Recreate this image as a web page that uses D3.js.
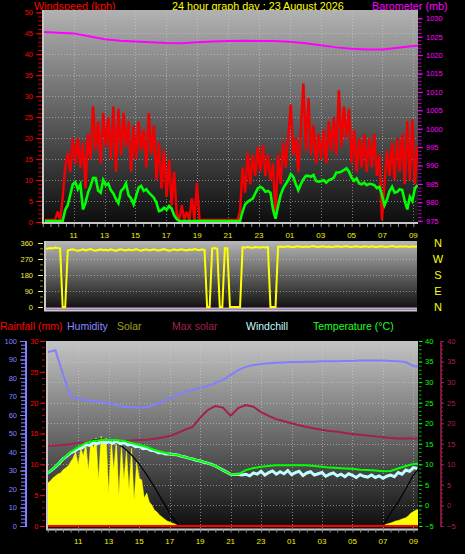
<!DOCTYPE html>
<html><head><meta charset="utf-8">
<script src="https://cdn.jsdelivr.net/npm/d3@7/dist/d3.min.js"></script>
<style>body{margin:0;background:#000;} svg{display:block;}</style>
</head><body><svg id="c" width="465" height="554"></svg>
<script>
// ---------------- DATA ----------------
const titleText = "24 hour graph day : 23 August 2026";
const hourTicks  = [11,13,15,17,19,21,23,25,27,29,31,33];
const hourLabels = ["11","13","15","17","19","21","23","01","03","05","07","09"];

// wind samples (~10 min), start 09:08
const windStartH = 9.14, windStepH = 0.1641;
const windAvg = [
 0,0,0,0,0,0,0,0,
 2.9,4,6.5,9,9.5,7.8,9,3,
 4.5,7,8.5,10.5,10.5,7.5,7,10,
 8.8,9.2,7.6,6.8,5.5,4.5,7.4,8,
 9.2,6.4,5.6,4.2,6.2,8.2,8.6,7.4,
 7.8,7,6.4,5.8,4.6,2.6,2.8,3.4,
 2.9,3.8,3.2,1.6,0.7,0,0,0,
 0,0,0,0,0.3,0,0,0,
 0,0,0,0,0,0,0,0,
 0,0,0,0,0,0,2.5,4.2,
 4.8,5.2,5.6,6.8,8,8.4,8,7.2,
 7.4,7,3,0.8,3.8,6.4,8,9,
 10,11.4,10.8,9,7.6,9,10.2,11,
 11,10.8,11.2,9.8,9.6,9.7,10,9.4,
 10,10.2,10.6,11.8,11.8,12,12.4,12.8,
 12,10.6,9.8,10.4,9.2,9,9.4,8.8,
 9.1,9,8.8,8.1,8.4,6.4,4,5.4,
 7.4,8.4,7,7.2,7.8,7.6,5,3,
 6,5,8,8.8];
const windGust = [
 0.5,0.5,0.5,0.5,0.5,2.5,0.5,5.7,
 13,16.5,12,20,14,20,13,19,
 8,21,15,27.5,17,24,14,26,
 18,25,15,27.5,12,27,16,26,
 18,24,12,23,15,24,17,22,
 13,26,16,23,10,19,8,17,
 6,15,4,12,2,0.5,4,0.5,
 2.5,0.5,5.7,0.5,9.3,0.5,0.5,0.5,
 0.5,0.5,0.5,0.5,0.5,0.5,0.5,0.5,
 0.5,0.5,0.5,0.5,0.5,2.5,13,7,
 16.5,9,16,11,18,12,18.3,11,
 16,10,14,1.5,16,9,19,13,
 20,28,16,20,12,22,33,17,
 29.5,16,23,14,21,15,22,14,
 24,17,25,16,31.4,18,27.5,20,
 27,14,22,12,20,13,21,12,
 20,13,21,11,16,0.5,9,17,
 11,19,10,20,12,21,9,24,
 10,24.5,9,18];
const windDir = [
 330,328,332,330,335,332,330,0,
 0,318,322,325,320,316,320,324,
 318,322,326,320,317,321,325,319,
 322,318,324,320,316,322,325,320,
 318,323,319,321,326,320,317,322,
 324,319,321,325,320,318,322,326,
 321,317,320,324,319,322,325,320,
 318,323,321,326,322,319,324,320,
 0,0,330,332,328,0,0,330,
 330,0,0,0,0,0,336,334,
 338,335,333,337,336,334,338,335,
 337,0,0,0,338,340,337,339,
 341,338,336,340,342,339,337,340,
 338,341,343,339,337,340,342,338,
 340,337,339,342,340,338,341,343,
 339,337,340,342,339,338,341,340,
 338,341,339,337,340,342,339,338,
 341,343,340,338,341,339,342,340,
 338,341,339,340];

// barometer hourly from 09:00
const baroStartH = 9;
const baro = [1026.3,1026.1,1025.9,1025.1,1024.3,1023.9,1023.7,1023.5,1023.3,1023.2,
 1023.5,1023.7,1023.8,1023.9,1023.8,1023.8,1023.6,1023.2,1022.7,1022.1,
 1021.7,1021.5,1021.5,1022.0,1022.5,1022.6];

// lower panel, half-hourly from 09:00
const halfStartH = 9.0;
const humidity = [94,95,82,70,68.6,68,67.6,67,66.5,65.4,64.3,64.3,63.8,64.3,65.4,67,69,70.8,72.4,73.5,
 74.6,75.7,77.3,79,81.6,84.3,86,87,87.6,88,88.2,88.4,88.6,88.6,88.8,88.8,89,89,89,89.2,
 89.2,89.4,89.4,89.4,89.4,89.2,89,88.6,86.5,86];
const temperature = [7.9,9.4,11.3,13.0,14.2,15.2,15.7,15.9,15.9,15.9,15.7,15.2,14.7,14.2,13.5,13.0,12.5,12.3,11.8,11.3,
 10.8,10.3,9.6,8.6,7.6,7.6,8.6,9.1,9.4,9.6,9.8,9.8,9.8,9.8,9.8,9.6,9.4,9.2,9.1,9.0,
 8.9,8.7,8.6,8.5,8.3,8.4,9.0,9.6,10.1,10.2];
const maxSolarLine = [14.5,14.6,14.7,14.9,15.2,15.3,15.4,15.5,15.7,15.7,15.7,15.8,15.9,16.0,16.2,16.5,16.9,17.6,18.4,19.1,
 21.3,23.2,24.2,23.8,21.8,23.7,24.4,24.0,22.7,21.8,21.0,20.5,20.0,19.5,19.1,18.7,18.4,18.1,17.9,17.6,
 17.4,17.2,17.0,16.8,16.6,16.4,16.3,16.3,16.3,16.3];
const rainfall = new Array(50).fill(0);
const solarCurve = [286,324,362,400,427,449,465,470,465,449,422,384,335,276,211,140,70,11,0,0,
 0,0,0,0,0,0,0,0,0,0,0,0,0,0,0,0,0,0,0,0,
 0,0,0,0,0,70,130,200,276,324];

// windchill, quarter-hourly from 09:00
const chillStartH = 9.0, chillStepH = 0.25;
const windchill = [7.9,8.6,9.4,10.3, 11.3,12.0,12.8,13.2, 13.8,14.0,14.8,14.6, 15.3,15.0,15.6,15.2,
 15.5,15.1,15.6,15.0, 15.3,14.7,14.9,14.3, 14.4,13.8,13.9,13.4, 13.3,12.8,12.8,12.5,
 12.5,12.4,12.3,12.0, 11.8,11.5,11.3,11.0, 10.8,10.5,10.3,10.0, 9.6,9.1,8.6,8.1,
 7.6,7.5,7.6,7.4, 7.6,7.2,7.9,7.6, 8.3,7.4,8.0,8.4, 7.6,8.2,7.7,8.5,
 7.5,8.0,8.3,7.3, 7.9,8.2,7.4,7.7, 8.0,7.1,7.6,7.9, 7.2,7.6,7.0,7.7,
 7.3,6.8,7.5,7.1, 6.9,7.4,6.8,7.2, 6.6,7.1,7.4,7.0, 8.0,7.6,8.6,8.3,
 9.2,9.0];

// solar radiation, 10 min from 09:00
const solarStartH = 9.0, solarStepH = 1/6;
const solar = [232,243,259,270,281,286,303,313,324,346,368,400,330,422,380,443,300,465,420,476,
 250,486,440,476,180,465,300,470,168,438,250,411,195,420,140,346,260,249,151,178,
 130,114,86,76,59,49,38,27,22,16,11,5,0,0,0,0,0,0,0,0,
 0,0,0,0,0,0,0,0,0,0,0,0,0,0,0,0,0,0,0,0,
 0,0,0,0,0,0,0,0,0,0,0,0,0,0,0,0,0,0,0,0,
 0,0,0,0,0,0,0,0,0,0,0,0,0,0,0,0,0,0,0,0,
 0,0,0,0,0,0,0,0,0,0,0,0,3,8,12,16,22,27,30,35,
 40,45,55,70,78,86,90];

const legend = [["Rainfall (mm)",0,"#ff0000"],["Humidity",67,"#8888ff"],["Solar",117,"#a0a020"],
 ["Max solar",172,"#a4204c"],["Windchill",246,"#c0ffff"],["Temperature (\u00b0C)",313,"#20ff20"]];
const compass = ["N","W","S","E","N"];
const compassDeg = [360,270,180,90,0];

// ---------------- DRAW ----------------
const FONT = "'Liberation Sans', Arial, sans-serif";
const svg = d3.select("#c");
svg.append("rect").attr("width",465).attr("height",554).attr("fill","#000");
const defs = svg.append("defs");
function grad(id, top, mid, bot){
  const g = defs.append("linearGradient").attr("id",id).attr("x1",0).attr("y1",0).attr("x2",0).attr("y2",1);
  g.append("stop").attr("offset","0%").attr("stop-color",top);
  g.append("stop").attr("offset","50%").attr("stop-color",mid);
  g.append("stop").attr("offset","100%").attr("stop-color",bot);
}
grad("g1","#b2b2b2","#5e5e5e","#0c0c0c");
grad("g2","#b8b8b8","#606060","#0c0c0c");
grad("g3","#c4c4c4","#6a6a6a","#0c0c0c");
function clip(id,x,y,w,h){ defs.append("clipPath").attr("id",id).append("rect").attr("x",x).attr("y",y).attr("width",w).attr("height",h); }

function panel(x0,y0,x1,y1,gid){
  svg.append("rect").attr("x",x0).attr("y",y0).attr("width",x1-x0).attr("height",y1-y0).attr("fill",`url(#${gid})`);
}
function frame(x0,y0,x1,y1){
  svg.append("line").attr("x1",x0+1).attr("x2",x0+1).attr("y1",y0).attr("y2",y1+1).attr("stroke","#c8c8c8").attr("stroke-width",2);
  svg.append("line").attr("x1",x0).attr("x2",x1).attr("y1",y1+1).attr("y2",y1+1).attr("stroke","#c8c8c8").attr("stroke-width",2);
}
function axis(gen, scale, vals, size, pad, fmt, color, tx, ty, fs){
  const a = gen(scale).tickValues(vals).tickSize(size).tickPadding(pad).tickFormat(fmt);
  const g = svg.append("g").attr("transform",`translate(${tx},${ty})`).call(a);
  g.select(".domain").remove();
  g.selectAll("line").attr("stroke",color).attr("stroke-width",1);
  g.selectAll("text").attr("fill",color).attr("font-size",fs).attr("font-family",FONT);
  return g;
}
function gridH(scale, vals, x0, x1){
  svg.append("g").selectAll("line").data(vals).join("line")
    .attr("x1",x0).attr("x2",x1).attr("y1",d=>Math.round(scale(d))+0.5).attr("y2",d=>Math.round(scale(d))+0.5)
    .attr("stroke","#d0d0d0").attr("stroke-opacity",0.55).attr("stroke-dasharray","1,2");
}
function gridV(scale, vals, y0, y1){
  svg.append("g").selectAll("line").data(vals).join("line")
    .attr("y1",y0).attr("y2",y1).attr("x1",d=>Math.round(scale(d))+0.5).attr("x2",d=>Math.round(scale(d))+0.5)
    .attr("stroke","#d0d0d0").attr("stroke-opacity",0.55).attr("stroke-dasharray","1,2");
}
const range = (a,b,s)=>d3.range(a,b+s/2,s);

// title row
svg.append("text").attr("x",34).attr("y",9.5).text("Windspeed (kph)").attr("fill","#ff0000").attr("font-size",10.8).attr("font-family",FONT);
svg.append("text").attr("x",172).attr("y",9.5).text(titleText).attr("fill","#ffff00").attr("font-size",10.8).attr("font-family",FONT);
svg.append("text").attr("x",372).attr("y",9.5).text("Barometer (mb)").attr("fill","#ff00ff").attr("font-size",10.8).attr("font-family",FONT);

// ===== Panel 1 =====
const x1 = d3.scaleLinear().domain([8.95,33.3]).range([42,418]);
const yWind = d3.scaleLinear().domain([0,50]).range([222,12.3]);
const yBaro = d3.scaleLinear().domain([975,1030]).range([220.7,18.3]);
panel(42,10,418,224,"g1");
gridH(yWind, range(5,45,5), 43, 418);
gridV(x1, hourTicks, 10, 222);
clip("cp1",43,10,375,213);
const p1 = svg.append("g").attr("clip-path","url(#cp1)");
const tW = i => windStartH + i*windStepH;
p1.append("path").datum(windGust).attr("fill","none").attr("stroke","#f00000").attr("stroke-width",2.5)
  .attr("stroke-linejoin","bevel")
  .attr("d", d3.line().x((d,i)=>x1(tW(i))).y(d=>yWind(d)));
p1.append("path").datum(windAvg).attr("fill","none").attr("stroke","#00ff00").attr("stroke-width",2.6)
  .attr("d", d3.line().x((d,i)=>x1(tW(i))).y(d=>Math.min(yWind(d),221)));
p1.append("path").datum(baro).attr("fill","none").attr("stroke","#ff00ff").attr("stroke-width",2)
  .attr("d", d3.line().x((d,i)=>x1(baroStartH+i)).y(d=>yBaro(d)));
frame(42,10,418,222);
axis(d3.axisLeft, yWind, range(0,50,1), 4, 0, "", "#c00000", 42, 0, 8);
axis(d3.axisLeft, yWind, range(0,50,5), 6, 3, d3.format("d"), "#ff0000", 42, 0, 7.5);
axis(d3.axisRight, yBaro, range(975,1030,1), 3.5, 0, "", "#c000c0", 418, 0, 8);
axis(d3.axisRight, yBaro, range(975,1030,5), 5, 3, d3.format("d"), "#ff00ff", 418, 0, 7.5);
axis(d3.axisBottom, x1, range(9,33,0.5), 3, 0, "", "#909090", 0, 224, 8);
svg.append("g").selectAll("text").data(hourTicks).join("text")
  .attr("x",d=>x1(d)).attr("y",237.5).attr("text-anchor","middle").text((d,i)=>hourLabels[i])
  .attr("fill","#f0f000").attr("font-size",8).attr("font-family",FONT);

// ===== Panel 2 =====
const yDir = d3.scaleLinear().domain([0,360]).range([307,243]);
panel(45,241,417,310,"g2");
gridH(yDir, [90,180,270], 46, 417);
clip("cp2",46,241,371,69);
const p2 = svg.append("g").attr("clip-path","url(#cp2)");
p2.append("line").attr("x1",46).attr("x2",417).attr("y1",308.5).attr("y2",308.5).attr("stroke","#c8a0d8").attr("stroke-width",2);
p2.append("path").datum(windDir).attr("fill","none").attr("stroke","#ffff00").attr("stroke-width",2)
  .attr("d", d3.line().x((d,i)=>x1(tW(i))).y(d=>yDir(d)));
frame(44,241,417,309.5);
axis(d3.axisLeft, yDir, range(0,360,30), 3, 0, "", "#909000", 43, 0, 8);
axis(d3.axisLeft, yDir, range(0,360,90), 5, 5, d3.format("d"), "#f0f040", 43, 0, 7.5);
svg.append("g").selectAll("text").data(compass).join("text")
  .attr("x",438).attr("y",(d,i)=>yDir(compassDeg[i])+4).attr("text-anchor","middle").text(d=>d)
  .attr("fill","#ffff00").attr("font-size",11).attr("font-family",FONT);

// legend row
svg.append("g").selectAll("text").data(legend).join("text")
  .attr("x",d=>d[1]).attr("y",330).text(d=>d[0]).attr("fill",d=>d[2]).attr("font-size",10.5).attr("font-family",FONT);

// ===== Panel 3 =====
const x3 = d3.scaleLinear().domain([8.95,33.3]).range([47,418]);
const yHum = d3.scaleLinear().domain([0,100]).range([526,341]);
const yRain = d3.scaleLinear().domain([0,30]).range([526,341]);
const yTemp = d3.scaleLinear().domain([-5,40]).range([526,341]);
const ySolar = d3.scaleLinear().domain([0,1000]).range([526,341]);
panel(47,341,418,529,"g3");
gridH(yTemp, range(0,35,5), 48, 418);
gridV(x3, hourTicks, 341, 528);
clip("cp3",48,341,370,187);
const p3 = svg.append("g").attr("clip-path","url(#cp3)");
const tS = i => solarStartH + i*solarStepH;
const tH = i => halfStartH + i*0.5;
const tC = i => chillStartH + i*chillStepH;
p3.append("path").datum(solar).attr("fill","#ffff00").attr("stroke","#ffff00").attr("stroke-width",0.5)
  .attr("d", d3.area().x((d,i)=>x3(tS(i))).y0(ySolar(0)).y1(d=>ySolar(d)));
p3.append("path").datum(solarCurve).attr("fill","none").attr("stroke","#000").attr("stroke-width",1.2)
  .attr("d", d3.line().x((d,i)=>x3(tH(i))).y(d=>ySolar(d)));
p3.append("path").datum(humidity).attr("fill","none").attr("stroke","#8080ff").attr("stroke-width",2)
  .attr("d", d3.line().x((d,i)=>x3(tH(i))).y(d=>yHum(d)));
p3.append("path").datum(maxSolarLine).attr("fill","none").attr("stroke","#a4204c").attr("stroke-width",2)
  .attr("d", d3.line().x((d,i)=>x3(tH(i))).y(d=>yTemp(d)));
p3.append("path").datum(windchill).attr("fill","none").attr("stroke","#c0ffff").attr("stroke-width",3)
  .attr("d", d3.line().x((d,i)=>x3(tC(i))).y(d=>yTemp(d)));
p3.append("path").datum(temperature).attr("fill","none").attr("stroke","#00ff00").attr("stroke-width",2)
  .attr("d", d3.line().x((d,i)=>x3(tH(i))).y(d=>yTemp(d)));
p3.append("path").datum(rainfall).attr("fill","none").attr("stroke","#ff0000").attr("stroke-width",2)
  .attr("d", d3.line().x((d,i)=>x3(tH(i))).y(d=>yRain(d)));
frame(46,341,418,528.5);
// humidity axis
svg.append("line").attr("x1",26).attr("x2",26).attr("y1",341).attr("y2",527).attr("stroke","#8080ff").attr("stroke-width",2);
axis(d3.axisLeft, yHum, range(0,100,2), 4, 0, "", "#8080ff", 25, 0, 8);
axis(d3.axisLeft, yHum, range(0,100,10), 5, 3, d3.format("d"), "#8080ff", 25, 0, 7.5);
axis(d3.axisLeft, yRain, range(0,30,1), 3, 0, "", "#c00000", 45, 0, 8);
axis(d3.axisLeft, yRain, range(0,30,5), 5, 1.5, d3.format("d"), "#ff0000", 45, 0, 7.5);
axis(d3.axisRight, yTemp, range(-5,40,1), 2.5, 0, "", "#00c000", 419, 0, 8);
axis(d3.axisRight, yTemp, range(-5,40,5), 3.5, 2.5, d3.format("d"), "#00ff00", 419, 0, 7.5);
svg.append("line").attr("x1",441).attr("x2",441).attr("y1",341).attr("y2",527).attr("stroke","#a4204c").attr("stroke-width",1.5);
axis(d3.axisRight, yTemp, range(-5,40,1), 1.5, 0, "", "#a4204c", 441.5, 0, 8);
axis(d3.axisRight, yTemp, range(-5,40,5), 2.5, 3, d3.format("d"), "#a4204c", 441.5, 0, 7.5);
axis(d3.axisBottom, x3, range(9,33,0.5), 3, 0, "", "#909090", 0, 529.5, 8);
svg.append("g").selectAll("text").data(hourTicks).join("text")
  .attr("x",d=>x3(d)).attr("y",544).attr("text-anchor","middle").text((d,i)=>hourLabels[i])
  .attr("fill","#f0f000").attr("font-size",8).attr("font-family",FONT);
</script></body></html>
